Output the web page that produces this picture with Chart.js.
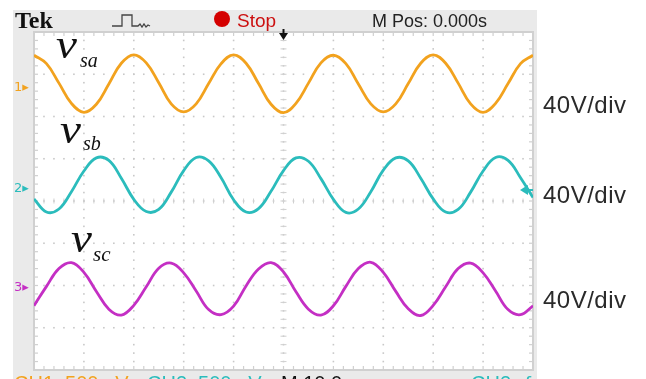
<!DOCTYPE html>
<html>
<head>
<meta charset="utf-8">
<script src="https://cdn.jsdelivr.net/npm/chart.js@4/dist/chart.umd.min.js"></script>
<style>
  body { margin: 0; background: #fff; }
  #wrap { position: relative; width: 646px; height: 379px; overflow: hidden; }
  #bezel { position: absolute; left: 13px; top: 10px; width: 524px; height: 380px; background: #eaeaea; }
  canvas { position: absolute; left: 0; top: 0; }
  .t { position: absolute; white-space: pre; line-height: 1; }
  .sans { font-family: "Liberation Sans", Arial, sans-serif; }
  .ser { font-family: "Liberation Serif", "Times New Roman", serif; font-style: italic; color: #111; }
  .big { font-size: 40px; transform: scaleX(1.18); transform-origin: left top; }
  .div { font-size: 24px; color: #2a2a2a; letter-spacing: 0.5px; left: 543px; }
  .mk { font-family: "DejaVu Sans", sans-serif; font-size: 13px; left: 14px; }
</style>
</head>
<body>
<div id="wrap">
  <div id="bezel"></div>
  <canvas id="chart" width="646" height="379"></canvas>

  <!-- header -->
  <div class="t" style="left:15px;top:8px;font-family:'Liberation Serif',serif;font-weight:bold;font-size:24px;color:#111;">Tek</div>
  <svg style="position:absolute;left:111px;top:12px" width="40" height="18">
    <polyline points="1,14 11,14 11,3 21,3 21,14 27,14 29,12 31,15 33,12 35,15 37,13 39,14" fill="none" stroke="#444" stroke-width="1.3"/>
  </svg>
  <div style="position:absolute;left:214px;top:11px;width:16px;height:16px;border-radius:50%;background:#d40000;"></div>
  <div class="t sans" style="left:237px;top:11px;font-size:19px;color:#cc1010;">Stop</div>
  <div class="t sans" style="left:372px;top:12px;font-size:18px;color:#222;">M Pos: 0.000s</div>

  <!-- channel markers -->
  <div class="t mk" style="top:80px;color:#f2a21e;">1▸</div>
  <div class="t mk" style="top:181px;color:#2bbcbc;">2▸</div>
  <div class="t mk" style="top:280px;color:#c42fc4;">3▸</div>

  <!-- trace names -->
  <div class="t ser big" style="left:56px;top:25px;">v</div>
  <div class="t ser" style="left:80px;top:50px;font-size:20px;">sa</div>
  <div class="t ser big" style="left:60px;top:110px;">v</div>
  <div class="t ser" style="left:83px;top:133px;font-size:20px;">sb</div>
  <div class="t ser big" style="left:71px;top:219px;">v</div>
  <div class="t ser" style="left:93px;top:244px;font-size:21px;">sc</div>

  <!-- scale labels -->
  <div class="t sans div" style="top:93px;">40V/div</div>
  <div class="t sans div" style="top:183px;">40V/div</div>
  <div class="t sans div" style="top:288px;">40V/div</div>

  <!-- bottom status line (cut off by the frame) -->
  <div class="t sans" style="left:14px;top:373px;font-size:20px;color:#f2a21e;">CH1  500mV</div>
  <div class="t sans" style="left:147px;top:373px;font-size:20px;color:#2bbcbc;">CH2  500mV</div>
  <div class="t sans" style="left:281px;top:373px;font-size:20px;color:#111;">M 10.0ms</div>
  <div class="t sans" style="left:471px;top:373px;font-size:20px;color:#2bbcbc;">CH2  ƒ</div>
</div>

<script>
// time in ms (10 ms/div), voltage in divisions (40 V/div)
const times = [0, 2.5, 5, 7.5, 10, 12.5, 15, 17.5, 20, 22.5, 25, 27.5, 30, 32.5, 35, 37.5,
  40, 42.5, 45, 47.5, 50, 52.5, 55, 57.5, 60, 62.5, 65, 67.5, 70, 72.5, 75, 77.5,
  80, 82.5, 85, 87.5, 90, 92.5, 95, 97.5, 100];

const vsa = [3.45, 3.25, 2.79, 2.31, 2.10, 2.29, 2.77, 3.26,
  3.46, 3.27, 2.80, 2.30, 2.11, 2.30, 2.78, 3.25,
  3.46, 3.26, 2.78, 2.29, 2.09, 2.31, 2.79, 3.27,
  3.45, 3.25, 2.77, 2.30, 2.11, 2.30, 2.78, 3.26,
  3.46, 3.26, 2.79, 2.30, 2.10, 2.31, 2.78, 3.25, 3.45];

const vsb = [0.05, -0.26, -0.19, 0.22, 0.71, 1.02, 0.96, 0.54,
  0.04, -0.25, -0.20, 0.21, 0.72, 1.03, 0.95, 0.55,
  0.03, -0.26, -0.18, 0.23, 0.72, 1.02, 0.94, 0.53,
  0.04, -0.27, -0.19, 0.22, 0.73, 1.02, 0.95, 0.54,
  0.05, -0.26, -0.20, 0.21, 0.71, 1.03, 0.96, 0.55, 0.08];

const vsc = [-2.48, -2.02, -1.60, -1.46, -1.69, -2.14, -2.56, -2.70,
  -2.47, -2.03, -1.59, -1.47, -1.70, -2.13, -2.57, -2.69,
  -2.49, -2.01, -1.61, -1.46, -1.68, -2.15, -2.56, -2.70,
  -2.48, -2.02, -1.60, -1.45, -1.69, -2.14, -2.55, -2.71,
  -2.47, -2.03, -1.60, -1.47, -1.70, -2.13, -2.57, -2.69, -2.48];

const xTicks = [0, 10, 20, 30, 40, 50, 60, 70, 80, 90, 100];
const yTicks = [-4, -3, -2, -1, 0, 1, 2, 3, 4];
const trigTime = 50;
const trigLevel = 0.26;

const colors = ["#f2a21e", "#2bbcbc", "#c42fc4"];

function pts(vals) {
  return times.map((t, i) => ({ x: t, y: vals[i] }));
}

const graticule = {
  id: "graticule",
  beforeDatasetsDraw(chart) {
    const { ctx, chartArea: a, scales: { x, y } } = chart;
    const x0 = xTicks[0], x1 = xTicks[xTicks.length - 1];
    const y0 = yTicks[0], y1 = yTicks[yTicks.length - 1];
    ctx.save();
    ctx.fillStyle = "#fff";
    ctx.fillRect(a.left, a.top, a.width, a.height);

    // dotted division lines, 5 dots per division
    ctx.fillStyle = "#c8c8c8";
    xTicks.forEach(v => {
      const px = x.getPixelForValue(v);
      for (let s = y0; s <= y1 + 1e-6; s += 0.2) ctx.fillRect(px - 0.8, y.getPixelForValue(s) - 0.8, 1.6, 1.6);
    });
    yTicks.forEach(v => {
      const py = y.getPixelForValue(v);
      for (let s = x0; s <= x1 + 1e-6; s += 2) ctx.fillRect(x.getPixelForValue(s) - 0.8, py - 0.8, 1.6, 1.6);
    });

    // centre cross with minor ticks
    const cx = x.getPixelForValue((x0 + x1) / 2), cy = y.getPixelForValue(0);
    ctx.fillStyle = "#d0d0d0";
    for (let s = y0; s <= y1 + 1e-6; s += 0.2) ctx.fillRect(cx - 3, y.getPixelForValue(s) - 0.5, 6, 1);
    for (let s = x0; s <= x1 + 1e-6; s += 2) ctx.fillRect(x.getPixelForValue(s) - 0.5, cy - 2.5, 1, 5);

    // edge ticks
    for (let s = x0; s <= x1 + 1e-6; s += 2) {
      const px = x.getPixelForValue(s);
      ctx.fillRect(px - 0.6, a.top, 1.2, 4);
      ctx.fillRect(px - 0.6, a.bottom - 4, 1.2, 4);
    }
    for (let s = y0; s <= y1 + 1e-6; s += 0.2) {
      const py = y.getPixelForValue(s);
      ctx.fillRect(a.left, py - 0.6, 4, 1.2);
      ctx.fillRect(a.right - 4, py - 0.6, 4, 1.2);
    }

    ctx.strokeStyle = "#d0d0d0";
    ctx.lineWidth = 2;
    ctx.strokeRect(a.left, a.top, a.width, a.height);
    ctx.restore();
  },
  afterDraw(chart) {
    const { ctx, chartArea: a, scales: { x, y } } = chart;
    ctx.save();
    // trigger position arrow
    const tx = x.getPixelForValue(trigTime);
    ctx.fillStyle = "#111";
    ctx.fillRect(tx - 1, a.top - 3, 2, 5);
    ctx.beginPath();
    ctx.moveTo(tx - 4.5, a.top + 1);
    ctx.lineTo(tx + 4.5, a.top + 1);
    ctx.lineTo(tx, a.top + 8);
    ctx.closePath();
    ctx.fill();
    // trigger level marker
    const ly = y.getPixelForValue(trigLevel);
    ctx.fillStyle = colors[1];
    ctx.beginPath();
    ctx.moveTo(a.right - 13, ly);
    ctx.lineTo(a.right - 5, ly - 5);
    ctx.lineTo(a.right - 5, ly + 5);
    ctx.closePath();
    ctx.fill();
    ctx.fillRect(a.right - 6, ly - 1, 6, 2);
    ctx.restore();
  }
};

function ds(vals, c) {
  return {
    data: pts(vals),
    borderColor: c,
    borderWidth: 2.8,
    pointRadius: 0,
    tension: 0.4,
    fill: false
  };
}

new Chart(document.getElementById("chart"), {
  type: "line",
  data: { datasets: [ds(vsa, colors[0]), ds(vsb, colors[1]), ds(vsc, colors[2])] },
  options: {
    responsive: false,
    devicePixelRatio: 1,
    animation: false,
    layout: { padding: { left: 34, top: 32, right: 113, bottom: 9 } },
    plugins: { legend: { display: false }, tooltip: { enabled: false } },
    scales: {
      x: { type: "linear", display: false, min: xTicks[0], max: xTicks[xTicks.length - 1] },
      y: { type: "linear", display: false, min: yTicks[0], max: yTicks[yTicks.length - 1] }
    }
  },
  plugins: [graticule]
});
</script>
</body>
</html>
